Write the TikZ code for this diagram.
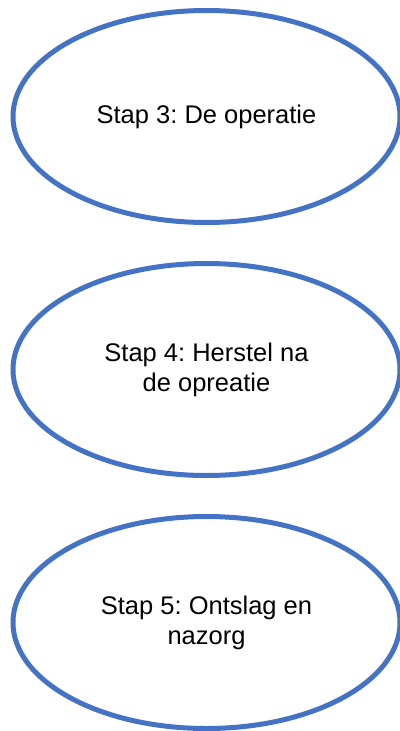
\documentclass[tikz,border=0pt]{standalone}
\usepackage{fontspec}
\setmainfont{Liberation Sans}
\usetikzlibrary{shapes.geometric,positioning}
\definecolor{stepblue}{HTML}{4472C4}
\frenchspacing

\begin{document}
\begin{tikzpicture}[x=1pt, y=1pt, node distance=36pt,
    stage/.style={ellipse, draw=stepblue, line width=5pt, fill=white, minimum width=387pt, minimum height=212pt, inner sep=0pt, align=center, font=\fontsize{25.5}{30}\selectfont}]
\useasboundingbox (0,0) rectangle (399,-731);
\node[stage] (stap3) at (206.5,-116.5) {Stap 3: De operatie};
\node[stage, below=of stap3] (stap4) {Stap 4: Herstel na\\de opreatie};
\node[stage, below=of stap4] (stap5) {Stap 5: Ontslag en\\nazorg};
\end{tikzpicture}
\end{document}
